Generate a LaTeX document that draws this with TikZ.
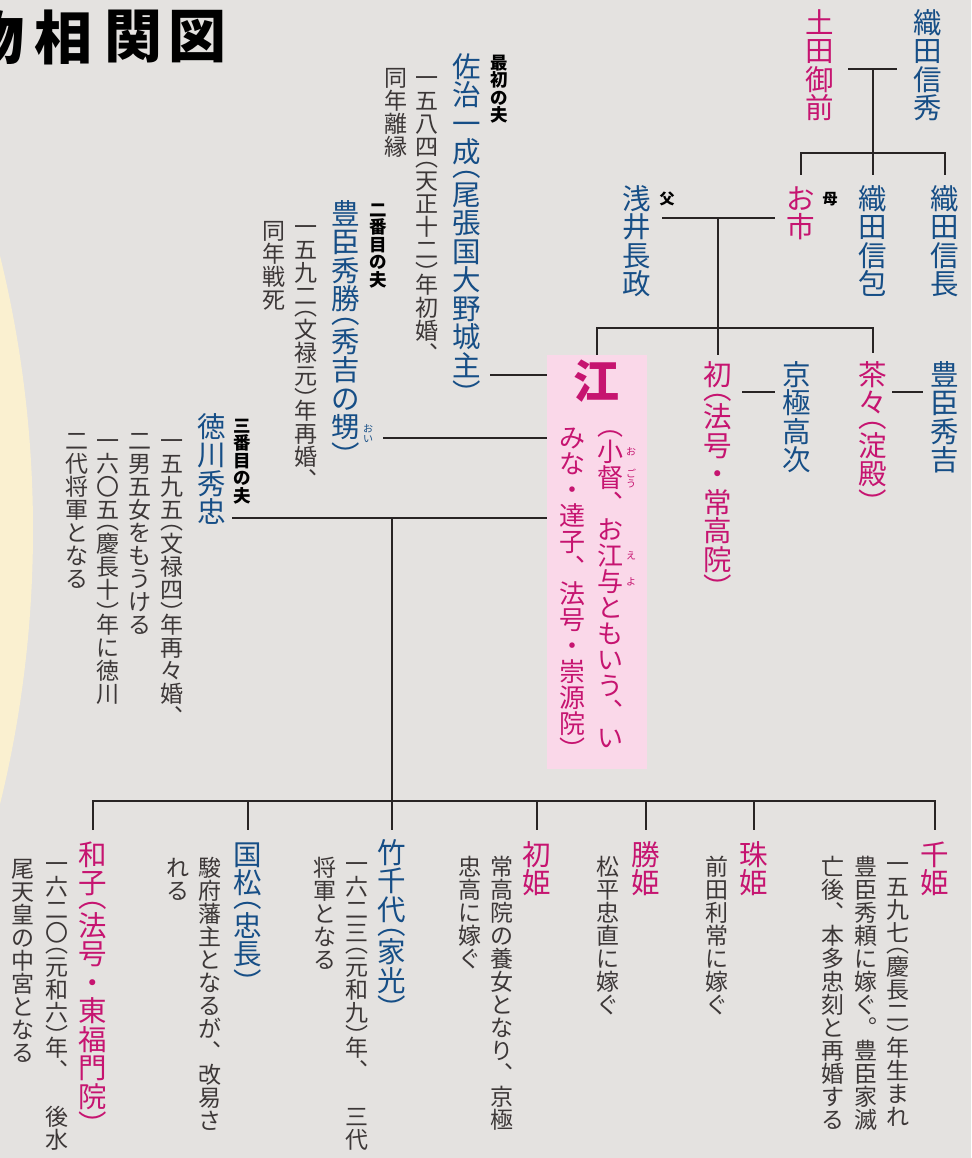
\documentclass[tikz,border=0pt]{standalone}
\usepackage{fontspec}
\newfontfamily\jpfont{Noto Sans CJK JP}
\usetikzlibrary{calc}
\definecolor{bgcol}{RGB}{228,226,224}
\definecolor{cream}{RGB}{250,240,208}
\definecolor{nameblue}{RGB}{22,78,134}
\definecolor{namepink}{RGB}{198,20,112}
\definecolor{textgray}{RGB}{60,55,55}
\definecolor{linecol}{RGB}{40,36,36}
\definecolor{boxpink}{RGB}{250,216,233}
% vertical columns: one glyph per em cell, brackets take half a cell
\newcommand\gbox[1]{\hbox to 1em{\hss\smash{#1}\hss\vrule width0pt height0.88em depth0.12em}}
\newcommand\tatecell[1]{%
  \ifx#1︵\kern-0.5em\gbox{#1}%
  \else\ifx#1︶\gbox{#1}\kern-0.5em%
  \else\gbox{#1}\fi\fi}
\def\tateloop#1{\ifx\relax#1\else\tatecell{#1}\expandafter\tateloop\fi}
\newcommand\tatetext[1]{\vbox{\offinterlineskip\tateloop#1\relax}}

\begin{document}
\begin{tikzpicture}[x=1pt,y=-1pt,
  kline/.style={draw=linecol, line width=1.3pt},
  tcol/.style={anchor=north, inner sep=0pt, outer sep=0pt},
  otoko/.style={tcol, text=nameblue, font=\jpfont\fontsize{28.5}{30}\selectfont},
  onna/.style={tcol, text=namepink, font=\jpfont\fontsize{28.5}{30}\selectfont},
  setsumei/.style={tcol, text=textgray, font=\jpfont\fontsize{23}{25}\selectfont},
  otto/.style={tcol, text=black, font=\jpfont\bfseries\fontsize{17.5}{19}\selectfont},
  oyalbl/.style={tcol, anchor=center, text=black, font=\jpfont\bfseries\fontsize{15}{16}\selectfont},
  rubi/.style={tcol, anchor=center, text=namepink, font=\jpfont\fontsize{10}{11}\selectfont},
  titlechar/.style={inner sep=0pt, text=black, font=\jpfont\bfseries\fontsize{58}{60}\selectfont}]

  % background
  \clip (0,0) rectangle (971,1158);
  \fill[bgcol] (0,0) rectangle (971,1158);
  \fill[cream] (-1113,530) circle (1146);

  % title
  \foreach \ch/\cx [count=\i] in {物/-4,相/63,関/133,図/197}
    \node[titlechar] (title\i) at (\cx,37) {\ch};

  % Oda family
  \node[onna] (tsuda) at (820,8) {\tatetext{土田御前}};
  \node[otoko] (nobuhide) at (928,8) {\tatetext{織田信秀}};
  \node[onna] (ichi) at (801,184) {\tatetext{お市}};
  \node[otoko] (nobukane) at (873,184) {\tatetext{織田信包}};
  \node[otoko] (nobunaga) at (945,184) {\tatetext{織田信長}};
  \node[oyalbl] (haha) at (830,199) {母};
  \node[oyalbl] (chichi) at (667,199) {父};
  \node[otoko] (nagamasa) at (637,184) {\tatetext{浅井長政}};

  \coordinate (m1a) at (848,69);
  \coordinate (m1b) at (897,69);
  \coordinate (m1) at (873,69);
  \coordinate (kyo1) at (873,153);
  \draw[kline] (m1a) -- (m1b);
  \draw[kline, shorten >=9pt] (m1) -- (nobukane.north);
  \draw[kline, shorten <=9pt, shorten >=9pt] (ichi.north) |- (kyo1) -| (nobunaga.north);

  % Azai
  \coordinate (m2a) at (662,218);
  \coordinate (m2b) at (775,218);
  \coordinate (m2) at (718,218);
  \coordinate (kyo2) at (718,328);
  \draw[kline] (m2a) -- (m2b);

  % Go
  \node[fill=boxpink, minimum width=100pt, minimum height=414pt, inner sep=0pt] (gobox) at (597,562) {};
  \node[tcol, text=namepink, font=\jpfont\bfseries\fontsize{46}{48}\selectfont] (go) at (596,358) {\tatetext{江}};
  \node[onna, font=\jpfont\fontsize{26}{28}\selectfont] (go1) at (610,426) {\tatetext{︵小督︑お江与ともいう︑い}};
  \node[onna, font=\jpfont\fontsize{26}{28}\selectfont] (go2) at (572,425) {\tatetext{みな・達子︑法号・崇源院︶}};
  \node[rubi] (r1) at (631,452) {\tatetext{お}};
  \node[rubi] (r2) at (631,479) {\tatetext{ごう}};
  \node[rubi] (r3) at (631,556) {\tatetext{え}};
  \node[rubi] (r4) at (631,582) {\tatetext{よ}};

  % sisters
  \node[onna] (hatsu) at (718,360) {\tatetext{初︵法号・常高院︶}};
  \node[otoko] (takatsugu) at (797,360) {\tatetext{京極高次}};
  \node[onna] (chacha) at (873,360) {\tatetext{茶々︵淀殿︶}};
  \node[otoko] (hideyoshi) at (945,360) {\tatetext{豊臣秀吉}};
  \draw[kline, shorten >=5pt] (m2) -- (hatsu.north);
  \draw[kline, shorten >=7pt] (gobox.north) |- (kyo2) -| (chacha.north);
  \coordinate (m3a) at (742,392);
  \coordinate (m3b) at (775,392);
  \coordinate (m4a) at (892,392);
  \coordinate (m4b) at (923,392);
  \draw[kline] (m3a) -- (m3b);
  \draw[kline] (m4a) -- (m4b);

  % husbands
  \node[otto] (saji-l) at (499,54) {\tatetext{最初の夫}};
  \node[otoko] (saji) at (467,52) {\tatetext{佐治一成︵尾張国大野城主︶}};
  \node[setsumei] (saji-d1) at (427,66) {\tatetext{一五八四︵天正十二︶年初婚︑}};
  \node[setsumei] (saji-d2) at (396,66) {\tatetext{同年離縁}};

  \node[otto] (hk-l) at (378,201) {\tatetext{二番目の夫}};
  \node[otoko] (hidekatsu) at (346,199) {\tatetext{豊臣秀勝︵秀吉の甥︶}};
  \node[rubi, text=nameblue] (r5) at (368,434) {\tatetext{おい}};
  \node[setsumei] (hk-d1) at (306,215) {\tatetext{一五九二︵文禄元︶年再婚︑}};
  \node[setsumei] (hk-d2) at (274,219) {\tatetext{同年戦死}};

  \node[otto] (ht-l) at (242,417) {\tatetext{三番目の夫}};
  \node[otoko] (hidetada) at (212,412) {\tatetext{徳川秀忠}};
  \node[setsumei] (ht-d1) at (172,429) {\tatetext{一五九五︵文禄四︶年再々婚︑}};
  \node[setsumei] (ht-d2) at (140,429) {\tatetext{二男五女をもうける}};
  \node[setsumei] (ht-d3) at (108,429) {\tatetext{一六〇五︵慶長十︶年に徳川}};
  \node[setsumei] (ht-d4) at (77,429) {\tatetext{二代将軍となる}};

  \coordinate (saji-e) at (490,375);
  \coordinate (hk-e) at (383,438);
  \coordinate (ht-e) at (232,518);
  \coordinate (ko) at (392,518);
  \coordinate (kyo3) at (392,801);
  \draw[kline] (saji-e) -- (saji-e -| gobox.west);
  \draw[kline] (hk-e) -- (hk-e -| gobox.west);
  \draw[kline] (ht-e) -- (ht-e -| gobox.west);

  % children
  \node[onna] (kazuko) at (93,840) {\tatetext{和子︵法号・東福門院︶}};
  \node[setsumei] (kz-d1) at (57,852) {\tatetext{一六二〇︵元和六︶年︑　後水}};
  \node[setsumei] (kz-d2) at (23,857) {\tatetext{尾天皇の中宮となる}};
  \node[otoko] (kunimatsu) at (248,840) {\tatetext{国松︵忠長︶}};
  \node[setsumei] (km-d1) at (210,856) {\tatetext{駿府藩主となるが︑改易さ}};
  \node[setsumei] (km-d2) at (178,856) {\tatetext{れる}};
  \node[otoko] (takechiyo) at (392,838) {\tatetext{竹千代︵家光︶}};
  \node[setsumei] (tc-d1) at (357,852) {\tatetext{一六二三︵元和九︶年︑　三代}};
  \node[setsumei] (tc-d2) at (325,856) {\tatetext{将軍となる}};
  \node[onna] (hatsuhime) at (537,840) {\tatetext{初姫}};
  \node[setsumei] (hh-d1) at (502,855) {\tatetext{常高院の養女となり︑京極}};
  \node[setsumei] (hh-d2) at (470,855) {\tatetext{忠高に嫁ぐ}};
  \node[onna] (katsuhime) at (646,840) {\tatetext{勝姫}};
  \node[setsumei] (kt-d1) at (608,855) {\tatetext{松平忠直に嫁ぐ}};
  \node[onna] (tamahime) at (754,840) {\tatetext{珠姫}};
  \node[setsumei] (tm-d1) at (717,855) {\tatetext{前田利常に嫁ぐ}};
  \node[onna] (senhime) at (935,840) {\tatetext{千姫}};
  \node[setsumei] (sh-d1) at (898,852) {\tatetext{一五九七︵慶長二︶年生まれ}};
  \node[setsumei] (sh-d2) at (866,855) {\tatetext{豊臣秀頼に嫁ぐ︒豊臣家滅}};
  \node[setsumei] (sh-d3) at (833,855) {\tatetext{亡後︑本多忠刻と再婚する}};

  \draw[kline, shorten >=8pt] (ko) -- (takechiyo.north);
  \draw[kline, shorten <=10pt, shorten >=10pt] (kazuko.north) |- (kyo3) -| (senhime.north);
  \foreach \c in {kunimatsu,hatsuhime,katsuhime,tamahime}
    \draw[kline, shorten >=10pt] (kyo3 -| \c.north) -- (\c.north);

\end{tikzpicture}
\end{document}
